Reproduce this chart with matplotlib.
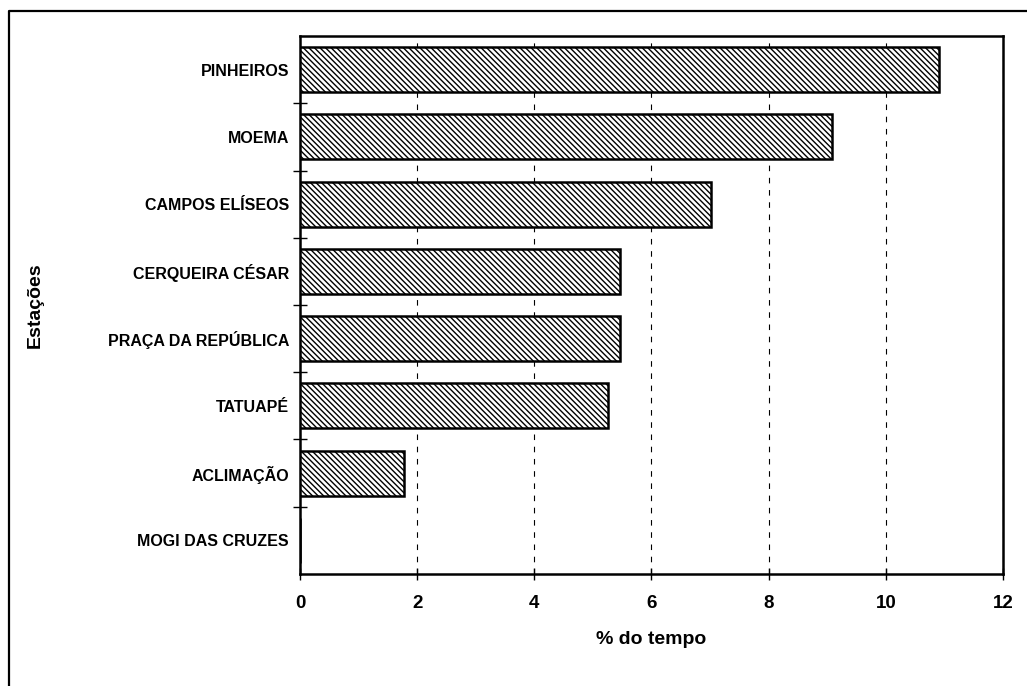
import matplotlib.pyplot as plt
from matplotlib.lines import Line2D
from matplotlib.ticker import MultipleLocator, FixedLocator

plt.rcParams['font.family'] = ['Liberation Sans', 'DejaVu Sans']
plt.rcParams['hatch.linewidth'] = 1.0

estacoes = ["PINHEIROS", "MOEMA", "CAMPOS ELÍSEOS", "CERQUEIRA CÉSAR",
            "PRAÇA DA REPÚBLICA", "TATUAPÉ", "ACLIMAÇÃO", "MOGI DAS CRUZES"]
tempo = [10.9, 9.08, 7.01, 5.46, 5.46, 5.26, 1.78, 0.0]

fig = plt.figure(figsize=(10.27, 6.86), dpi=100)
ax = fig.add_axes([0.2921, 0.1633, 0.6845, 0.7842])

pos = list(range(len(estacoes)))[::-1]
ax.barh(pos, tempo, height=0.67, color="white", edgecolor="black",
        linewidth=1.8, hatch="\\\\\\\\\\\\", zorder=3)

ax.set_xlim(0, 12)
ax.set_ylim(-0.5, len(estacoes) - 0.5)
ax.xaxis.set_major_locator(MultipleLocator(2))
ax.set_yticks(pos)
ax.set_yticklabels(estacoes, fontsize=11.5, fontweight="bold")
ax.yaxis.set_minor_locator(FixedLocator([p + 0.5 for p in range(len(estacoes) - 1)]))
ax.tick_params(axis="y", which="major", length=0, pad=8)
ax.tick_params(axis="y", which="minor", direction="inout", length=10, width=1)
ax.tick_params(axis="x", direction="inout", length=8, width=1, pad=11, labelsize=13.5)
for lab in ax.get_xticklabels():
    lab.set_fontweight("bold")

ax.grid(axis="x", linestyle=(0, (5, 6)), color="black", linewidth=0.8, zorder=1)
for s in ax.spines.values():
    s.set_linewidth(1.8)

ax.set_xlabel("% do tempo", fontsize=14, fontweight="bold", labelpad=14)
ax.set_ylabel("Estações", fontsize=14, fontweight="bold")
ax.yaxis.set_label_coords(-0.365, 0.5)

# moldura externa (só topo e esquerda aparecem no recorte)
fig.add_artist(Line2D([9 / 1027, 9 / 1027, 1.0], [0.0, 1 - 11 / 686, 1 - 11 / 686],
                      transform=fig.transFigure, color="black", linewidth=1.6))

fig.savefig("out.png", dpi=100)
